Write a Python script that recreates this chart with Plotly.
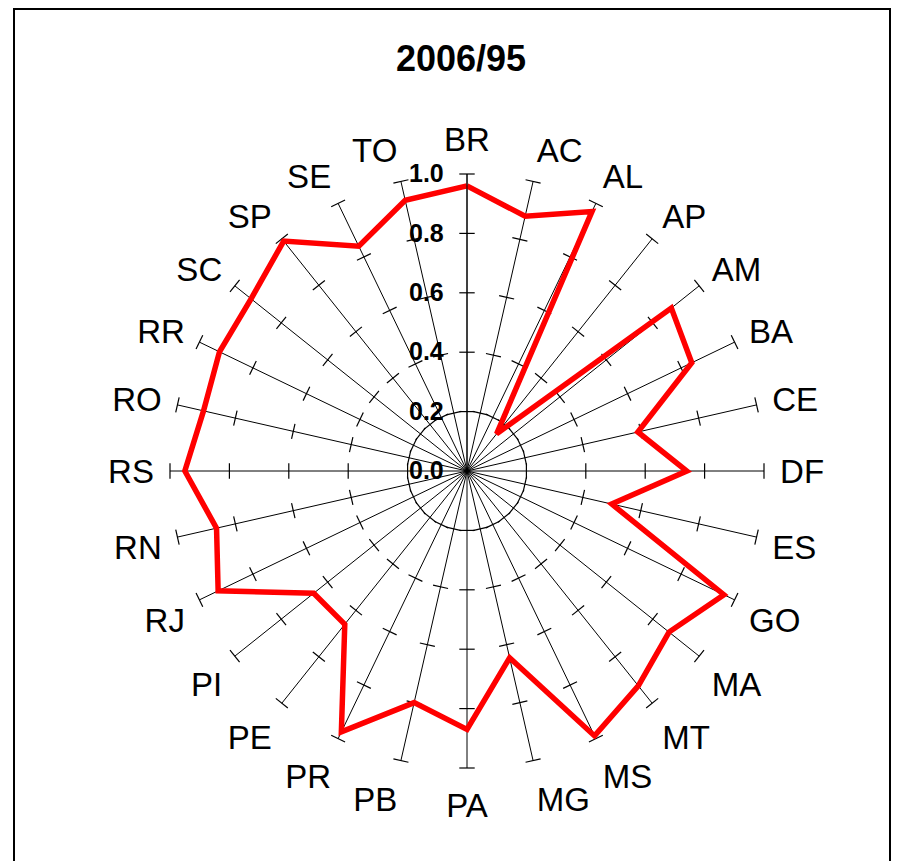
import plotly.graph_objects as go

categories = ["BR", "AC", "AL", "AP", "AM", "BA", "CE", "DF", "ES", "GO", "MA", "MT", "MS", "MG",
              "PA", "PB", "PR", "PE", "PI", "RJ", "RN", "RS", "RO", "RR", "SC", "SP", "SE", "TO"]
values_2006_95 = [0.96, 0.88, 0.97, 0.16, 0.88, 0.84, 0.59, 0.74, 0.50, 0.96, 0.87, 0.925, 0.99, 0.645,
                  0.87, 0.80, 0.975, 0.66, 0.66, 0.93, 0.865, 0.95, 0.91, 0.925, 0.93, 0.99, 0.84, 0.935]
tick_values = [0.0, 0.2, 0.4, 0.6, 0.8, 1.0]
tick_labels = ["0.0", "0.2", "0.4", "0.6", "0.8", "1.0"]
title_text = "2006/95"

n = len(categories)
step = 360.0 / n

fig = go.Figure()

# tick marks on every spoke (at 0.2 they form the dashed inner ring)
tick_theta, tick_r, tick_ang = [], [], []
for i, c in enumerate(categories):
    for tv in tick_values[1:]:
        tick_theta.append(c)
        tick_r.append(tv)
        tick_ang.append(i * step)
fig.add_trace(go.Scatterpolar(
    r=tick_r,
    theta=tick_theta,
    mode="markers",
    marker=dict(symbol="line-ew", size=11, angle=tick_ang,
                line=dict(color="black", width=1.2)),
    hoverinfo="skip",
))

# main series
fig.add_trace(go.Scatterpolar(
    r=values_2006_95 + values_2006_95[:1],
    theta=categories + categories[:1],
    mode="lines",
    line=dict(color="#FF0000", width=5.5),
    name="2006/95",
))

# page has an 8px body margin: shift target coordinates
OFF = 8
R = 297
cx, cy = 467 - OFF, 471 - OFF
W, H = 906, 861

fig.update_layout(
    width=W, height=H,
    margin=dict(l=0, r=0, t=0, b=0),
    paper_bgcolor="white",
    plot_bgcolor="white",
    showlegend=False,
    font=dict(family="Liberation Sans, Arial, sans-serif", color="black"),
    title=dict(text="<b>%s</b>" % title_text, x=(461 - OFF) / W, y=1 - (58 - OFF) / H,
               xanchor="center", yanchor="middle",
               font=dict(size=36, color="black")),
    polar=dict(
        domain=dict(x=[(cx - R) / W, (cx + R) / W], y=[1 - (cy + R) / H, 1 - (cy - R) / H]),
        bgcolor="rgba(0,0,0,0)",
        angularaxis=dict(
            type="category",
            categoryarray=categories,
            direction="clockwise",
            rotation=90,
            showline=False,
            showgrid=True,
            gridcolor="black",
            gridwidth=1,
            ticks="outside",
            ticklen=9,
            tickcolor="rgba(0,0,0,0)",
            tickfont=dict(size=33, color="black"),
        ),
        radialaxis=dict(
            range=[0, 1],
            angle=90,
            tickangle=90,
            showgrid=False,
            showline=True,
            linecolor="black",
            linewidth=1,
            tickvals=tick_values,
            ticktext=tick_labels,
            ticks="outside",
            ticklen=14,
            tickcolor="rgba(0,0,0,0)",
            side="counterclockwise",
            tickfont=dict(size=25, color="black", family="Liberation Sans, Arial, sans-serif"),
            layer="above traces",
        ),
    ),
    shapes=[dict(type="rect", xref="paper", yref="paper",
                 x0=(14 - OFF) / W, x1=(890 - OFF) / W, y0=-0.02, y1=1 - 1 / H,
                 line=dict(color="black", width=2))],
)
fig.update_polars(radialaxis_tickfont_weight="bold")

fig.write_html("out.html")
